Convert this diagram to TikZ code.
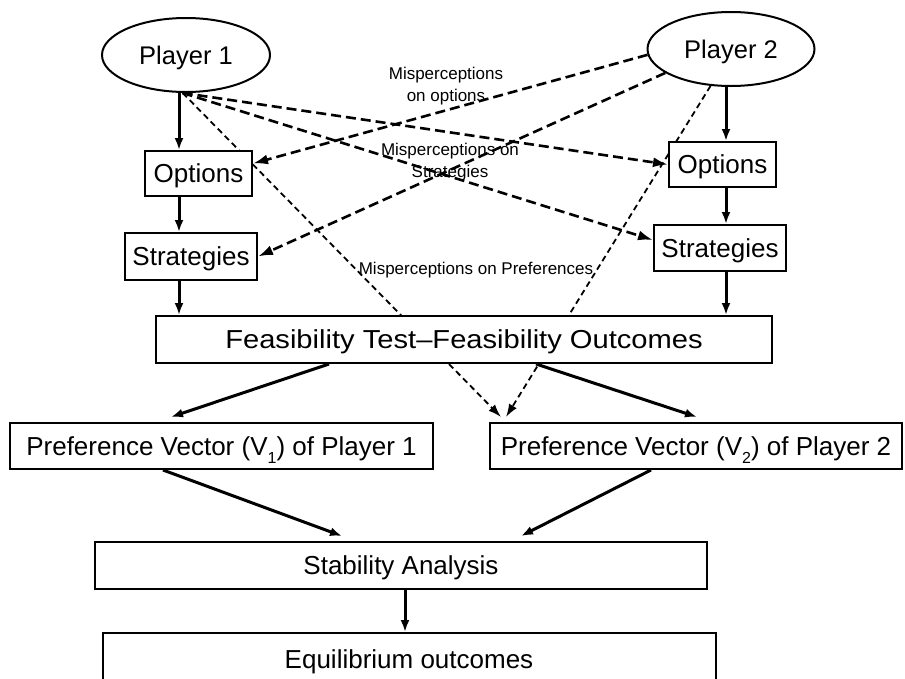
\documentclass[tikz,border=0pt]{standalone}
\usepackage{fontspec}
\setmainfont{Liberation Sans}
\usetikzlibrary{calc, shapes.geometric, arrows.meta, backgrounds}

\newcommand{\lowidx}[1]{\raisebox{-0.3em}{\fontsize{16}{16}\selectfont #1}}

\tikzset{
	boxnode/.style = {draw, line width=2pt, fill=white, inner sep=0pt, text depth=0pt, font=\fontsize{26}{30}\selectfont},
	playernode/.style = {ellipse, draw, line width=2pt, fill=white, inner sep=0pt, text depth=0pt, minimum height=74pt, font=\fontsize{25.5}{30}\selectfont},
	flow/.style = {line width=3pt, -{Latex[length=12pt,width=9pt]}},
	misview/.style = {line width=2.6pt, dash pattern=on 10pt off 5pt, -{Latex[length=15pt,width=10pt]}},
	mispref/.style = {line width=1.8pt, dash pattern=on 6pt off 4pt, -{Latex[length=13pt,width=9pt]}},
	note/.style = {align=center, inner sep=0pt, font=\fontsize{17}{22}\selectfont}
}

\begin{document}
\begin{tikzpicture}[x=1pt, y=-1pt]
			\useasboundingbox (0,0) rectangle (905,678);
			
			\coordinate (colL) at (179,0);
			\coordinate (colR) at (726,0);
			\coordinate (colM) at (405,0);
			
			\node[playernode, minimum width=168pt] (p1) at (186,55) {Player 1};
			\node[playernode, minimum width=167pt] (p2) at (731,49) {Player 2};
			
			\node[boxnode, minimum width=107pt, minimum height=45pt] (optL) at (198.5,173.5) {Options};
			\node[boxnode, minimum width=132pt, minimum height=47pt] (stL) at (191,256.5) {Strategies};
			\node[boxnode, minimum width=107pt, minimum height=45pt] (optR) at (722.5,164.5) {Options};
			\node[boxnode, minimum width=132pt, minimum height=46pt] (stR) at (720,248) {Strategies};
			
			\node[boxnode, minimum width=616pt, minimum height=47pt] (feas) at (464,339.5)
				{\addfontfeature{FakeStretch=1.12}Feasibility Test--Feasibility Outcomes};
			
			\node[boxnode, minimum width=423pt, minimum height=46pt] (v1) at (221.5,446)
				{Preference Vector (V\lowidx{1}) of Player 1};
			\node[boxnode, minimum width=412pt, minimum height=46pt] (v2) at (696,446)
				{Preference Vector (V\lowidx{2}) of Player 2};
			
			\node[boxnode, minimum width=612pt, minimum height=47pt] (stab) at (401,565.5) {Stability Analysis};
			\node[boxnode, minimum width=613pt, minimum height=52pt] (equi) at (409,659) {Equilibrium outcomes};
			
			\node[note] (optnote) at (446,86) {Misperceptions\\on options};
			\node[note] (stratnote) at (450,162) {Misperceptions on\\Strategies};
			\node[note] (prefnote) at (476,270) {Misperceptions on Preferences};
			
			\begin{scope}[on background layer]
				\draw[flow] (p1.south -| colL) -- (optL.north -| colL);
				\draw[flow] (optL.south -| colL) -- (stL.north -| colL);
				\draw[flow] (stL.south -| colL) -- (feas.north -| colL);
				\draw[flow] (p2.south -| colR) -- (optR.north -| colR);
				\draw[flow] (optR.south -| colR) -- (stR.north -| colR);
				\draw[flow] (stR.south -| colR) -- (feas.north -| colR);
				
				\draw[flow] ([xshift=174pt]feas.south west) -- ([xshift=162pt,yshift=5pt]v1.north west);
				\draw[flow] ([xshift=381pt]feas.south west) -- ([xshift=208pt,yshift=5pt]v2.north west);
				\draw[flow] ([xshift=154pt]v1.south west) -- ([xshift=248pt,yshift=5pt]stab.north west);
				\draw[flow] ([xshift=162pt]v2.south west) -- ([xshift=427pt,yshift=5pt]stab.north west);
				\draw[flow] (stab.south -| colM) -- (equi.north -| colM);
				
				\draw[misview] (p1.265) -- (optR.west);
				\draw[misview] (p1.265) -- ([yshift=8pt]stR.west);
				\draw[misview] (p2.184) -- ([yshift=10pt]optL.east);
				\draw[misview] (p2.200) -- (stL.east);
				
				\draw[mispref] (p1.265) -- ([xshift=12pt,yshift=5pt]v2.north west);
				\draw[mispref] (p2.241) -- ([xshift=17pt,yshift=5pt]v2.north west);
			\end{scope}
		\end{tikzpicture}
\end{document}
